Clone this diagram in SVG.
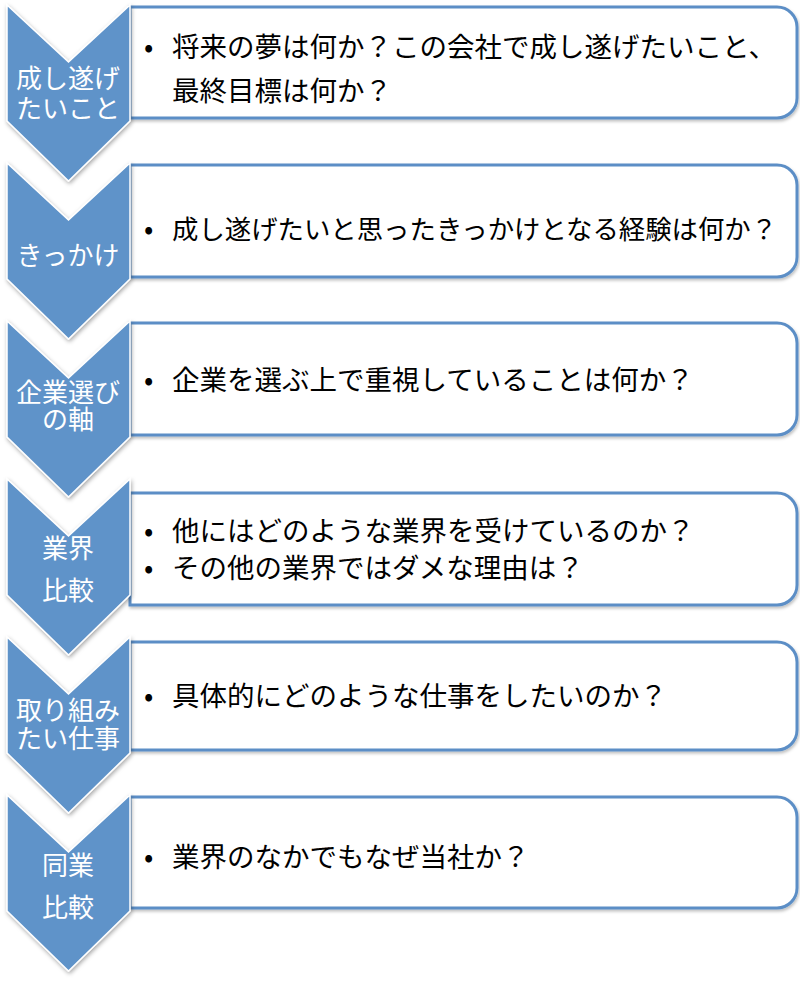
<svg xmlns="http://www.w3.org/2000/svg" width="800" height="983" viewBox="0 0 800 983">
<defs>
<filter id="sh" x="-20%" y="-20%" width="140%" height="140%">
<feDropShadow dx="1" dy="2" stdDeviation="2" flood-color="#000" flood-opacity="0.35"/>
</filter>
<filter id="sh2" x="-5%" y="-20%" width="110%" height="140%">
<feDropShadow dx="1" dy="2" stdDeviation="1.5" flood-color="#000" flood-opacity="0.25"/>
</filter>
<path id="chev" d="M7,5 L68.5,62 L130,5 L130,121 L68.5,181 L7,121 Z"/>
</defs>
<style>
.box{fill:#fff;stroke:#5B8EC6;stroke-width:3;filter:url(#sh2)}
.chev{fill:#5F93C9;stroke:#fff;stroke-width:1.5;filter:url(#sh)}
.ct{font-family:"Noto Sans CJK JP","Noto Sans",sans-serif;font-size:26px;fill:#fff;text-anchor:middle}
.bt{font-family:"Noto Sans CJK JP","Noto Sans",sans-serif;font-size:27.5px;fill:#000}
</style>
<rect width="800" height="983" fill="#fff"/>
<g id="connectors"/>
<g id="step1">
<path class="box" d="M130,7 H777 A20,20 0 0 1 797,27 V98 A20,20 0 0 1 777,118 H130 Z"/>
<use href="#chev" class="chev"/>
<text class="ct"><tspan x="68" y="88">成し遂げ</tspan><tspan x="68" y="118">たいこと</tspan></text>
<text class="bt" y="57"><tspan x="144">•</tspan><tspan x="172">将来の夢は何か？この会社で成し遂げたいこと、</tspan></text>
<text class="bt" x="172" y="101">最終目標は何か？</text>
</g>
<g id="step2">
<path class="box" d="M130,165 H777 A20,20 0 0 1 797,185 V257 A20,20 0 0 1 777,277 H130 Z"/>
<use href="#chev" class="chev" y="158"/>
<text class="ct" x="68" y="265">きっかけ</text>
<text class="bt" y="239"><tspan x="144">•</tspan><tspan x="172" style="font-size:26.4px">成し遂げたいと思ったきっかけとなる経験は何か？</tspan></text>
</g>
<g id="step3">
<path class="box" d="M130,323 H777 A20,20 0 0 1 797,343 V415 A20,20 0 0 1 777,435 H130 Z"/>
<use href="#chev" class="chev" y="316"/>
<text class="ct"><tspan x="68" y="402">企業選び</tspan><tspan x="68" y="429">の軸</tspan></text>
<text class="bt" y="390"><tspan x="144">•</tspan><tspan x="172">企業を選ぶ上で重視していることは何か？</tspan></text>
</g>
<g id="step4">
<path class="box" d="M130,493 H777 A20,20 0 0 1 797,513 V585 A20,20 0 0 1 777,605 H130 Z"/>
<use href="#chev" class="chev" y="474"/>
<text class="ct" x="68" y="558">業界</text>
<text class="ct" x="68" y="600">比較</text>
<text class="bt" y="541"><tspan x="144">•</tspan><tspan x="172">他にはどのような業界を受けているのか？</tspan></text>
<text class="bt" y="578"><tspan x="144">•</tspan><tspan x="172">その他の業界ではダメな理由は？</tspan></text>
</g>
<g id="step5">
<path class="box" d="M130,642 H777 A20,20 0 0 1 797,662 V730 A20,20 0 0 1 777,750 H130 Z"/>
<use href="#chev" class="chev" y="632"/>
<text class="ct"><tspan x="68" y="720">取り組み</tspan><tspan x="68" y="748">たい仕事</tspan></text>
<text class="bt" y="706"><tspan x="144">•</tspan><tspan x="172">具体的にどのような仕事をしたいのか？</tspan></text>
</g>
<g id="step6">
<path class="box" d="M130,797 H777 A20,20 0 0 1 797,817 V888 A20,20 0 0 1 777,908 H130 Z"/>
<use href="#chev" class="chev" y="790"/>
<text class="ct" x="68" y="875">同業</text>
<text class="ct" x="68" y="917">比較</text>
<text class="bt" y="867"><tspan x="144">•</tspan><tspan x="172">業界のなかでもなぜ当社か？</tspan></text>
</g>
</svg>
